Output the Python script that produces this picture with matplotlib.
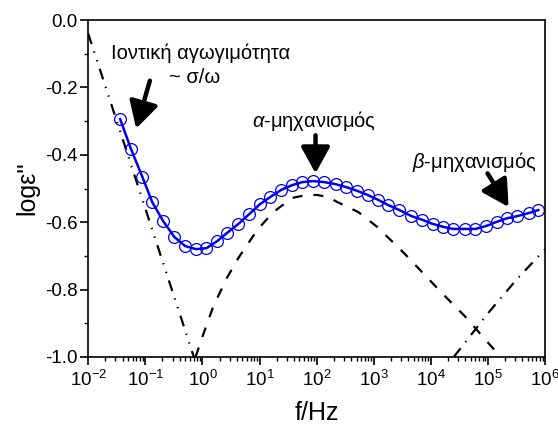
import numpy as np
import matplotlib
matplotlib.use("Agg")
import matplotlib.pyplot as plt
from matplotlib.ticker import MultipleLocator, LogLocator, NullFormatter

plt.rcParams['font.family'] = ['Liberation Sans', 'DejaVu Sans']
plt.rcParams['mathtext.fontset'] = 'custom'
plt.rcParams['mathtext.rm'] = 'Liberation Sans'
plt.rcParams['mathtext.it'] = 'Liberation Sans:italic'

# measured points (log10 of f/Hz, log eps'')
meas_logf = [-1.44, -1.25, -1.05, -0.88, -0.69, -0.49, -0.30, -0.11, 0.07, 0.26,
             0.43, 0.63, 0.82, 1.01, 1.19, 1.38, 1.57, 1.75, 1.94, 2.13,
             2.33, 2.52, 2.71, 2.89, 3.08, 3.25, 3.45, 3.66, 3.85, 4.03,
             4.22, 4.39, 4.59, 4.78, 4.97, 5.15, 5.34, 5.51, 5.71, 5.88]
meas_y = [-0.294, -0.383, -0.466, -0.540, -0.596, -0.644, -0.671, -0.680, -0.677, -0.656,
          -0.632, -0.605, -0.576, -0.546, -0.525, -0.504, -0.490, -0.481, -0.478, -0.481,
          -0.487, -0.496, -0.507, -0.519, -0.534, -0.549, -0.564, -0.582, -0.593, -0.605,
          -0.614, -0.620, -0.620, -0.620, -0.611, -0.599, -0.588, -0.582, -0.573, -0.564]

# conductivity contribution ~ sigma/omega
cond_logf = [-2.0, -0.15]
cond_y = [-0.04, -1.0]

# alpha relaxation
alpha_logf = [-0.12, 0.0, 0.19, 0.43, 0.63, 0.96, 1.24, 1.57, 1.8, 2.0, 2.2, 2.36,
              2.73, 3.06, 3.52, 4.22, 4.6, 5.22]
alpha_y = [-1.0, -0.94, -0.85, -0.765, -0.706, -0.623, -0.570, -0.528, -0.520, -0.519,
           -0.525, -0.540, -0.570, -0.614, -0.69, -0.815, -0.88, -1.0]

# beta relaxation
beta_logf = [4.4, 5.0, 5.5, 6.0]
beta_y = [-1.0, -0.87, -0.77, -0.68]

meas_f = 10 ** np.array(meas_logf)
cond_f = 10 ** np.array(cond_logf)
alpha_f = 10 ** np.array(alpha_logf)
beta_f = 10 ** np.array(beta_logf)

fig = plt.figure(figsize=(5.58, 4.26), dpi=100)
ax = fig.add_axes([0.158, 0.162, 0.819, 0.791])

ax.plot(cond_f, cond_y, color='black', lw=1.6, dashes=(5, 3.5, 0.6, 3.5, 0.6, 3.5))
ax.plot(alpha_f, alpha_y, color='black', lw=1.6, dashes=(4.5, 5))
ax.plot(beta_f, beta_y, color='black', lw=1.6, dashes=(5, 3.5, 0.6, 3.5))
ax.plot(meas_f, meas_y, color='#0000f0', lw=1.8, marker='o', ms=8.5,
        mfc='none', mec='#0000f0', mew=0.9)

ax.set_xscale('log')
ax.set_xlim(1e-2, 1e6)
ax.set_ylim(-1.0, 0.0)
ax.xaxis.set_major_locator(LogLocator(base=10, numticks=20))
ax.xaxis.set_minor_locator(LogLocator(base=10, subs=np.arange(2, 10), numticks=20))
ax.xaxis.set_minor_formatter(NullFormatter())
ax.yaxis.set_major_locator(MultipleLocator(0.2))
ax.yaxis.set_minor_locator(MultipleLocator(0.1))
ax.yaxis.set_major_formatter(plt.FuncFormatter(lambda v, p: f"{v:.1f}"))

for s in ax.spines.values():
    s.set_linewidth(1.2)
ax.tick_params(which='major', direction='out', length=5.5, width=1.2, labelsize=13.5)
ax.tick_params(which='minor', direction='out', length=3, width=1.0)
ax.tick_params(axis='y', pad=2)
ax.tick_params(axis='x', pad=4)

ax.set_xlabel('f/Hz', fontsize=18, labelpad=8)
ax.set_ylabel("logε''", fontsize=18, labelpad=4)

arrow = dict(arrowstyle='-|>,head_length=1.0,head_width=0.55', color='black', lw=3.2,
             shrinkA=0, shrinkB=0, mutation_scale=16)
ax.text(10 ** -0.04, -0.10, 'Ιοντική αγωγιμότητα', fontsize=14.5, ha='center', va='center')
ax.text(10 ** -0.14, -0.172, '~ σ/ω', fontsize=14.5, ha='center', va='center')
ax.annotate('', xy=(10 ** -1.16, -0.322), xytext=(10 ** -0.92, -0.18), arrowprops=arrow)

ax.text(10 ** 1.96, -0.30, r'$\alpha$-μηχανισμός', fontsize=14.5, ha='center', va='center')
ax.annotate('', xy=(10 ** 1.98, -0.455), xytext=(10 ** 1.98, -0.342), arrowprops=arrow)

ax.text(10 ** 4.76, -0.42, r'$\beta$-μηχανισμός', fontsize=14.5, ha='center', va='center')
ax.annotate('', xy=(10 ** 5.36, -0.555), xytext=(10 ** 4.99, -0.455), arrowprops=arrow)

fig.savefig('out.png', dpi=100)
